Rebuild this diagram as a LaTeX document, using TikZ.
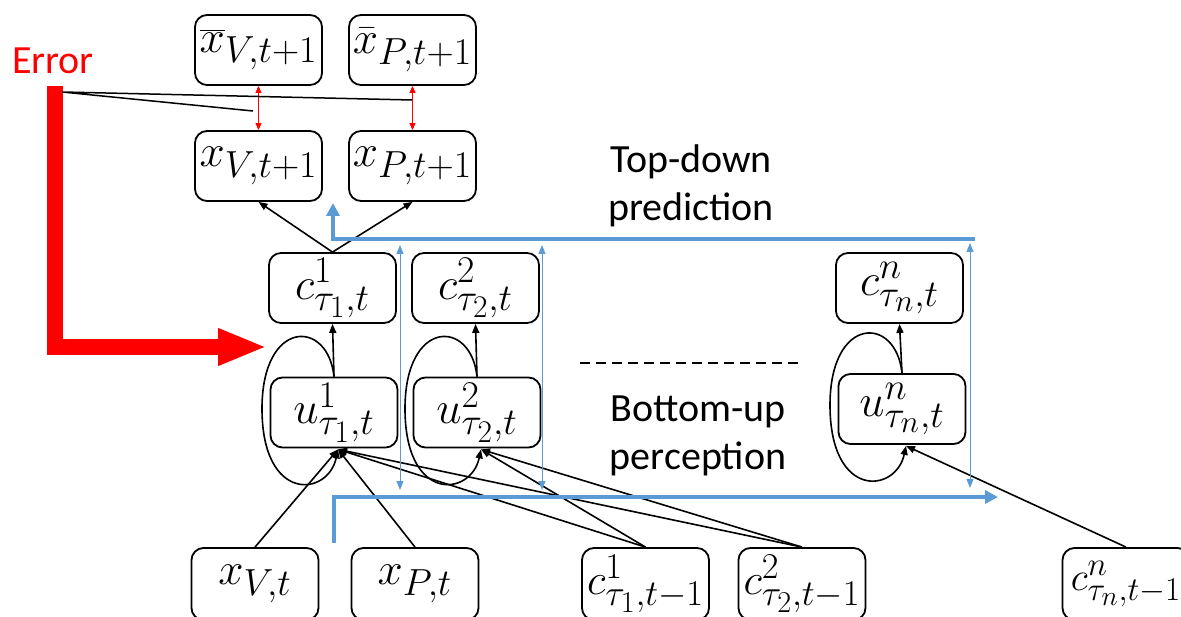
\documentclass[tikz,border=0pt]{standalone}
\usepackage{graphicx}
\usepackage{fontspec}
\newfontfamily\calib{Carlito}
\usetikzlibrary{arrows.meta,calc}
\definecolor{bl}{RGB}{91,155,213}
\definecolor{errred}{RGB}{255,0,0}
\newcommand\mtxt[1]{\scalebox{1.82}{\Huge$#1$}}
\newcommand\mtxtlow[2]{\raisebox{5pt}{\scalebox{#1}{\Huge$#2$}}}
\newcommand\drawselfloop[1]{%
  \draw[blk,-{Triangle[length=9pt,width=7pt]}] (#1.north)
    .. controls ($(#1.north)+(-6,-58)$) and ($(#1.north)+(-72,-58)$) .. ($(#1.north)+(-72,32)$)
    .. controls ($(#1.north)+(-72,127)$) and ($(#1.north)+(-6,120)$) .. ($(#1.south)+(4,1)$);}
\begin{document}
\begin{tikzpicture}[x=1pt,y=-1pt,
  box/.style={draw, line width=1.8pt, rounded corners=12pt, minimum width=127pt,
    minimum height=70pt, inner sep=0pt},
  blk/.style={line width=1.6pt, black},
  blkarrow/.style={blk, -{Triangle[length=9pt,width=7pt]}},
  lbl/.style={align=center, inner sep=0pt, font={\calib\fontsize{40}{48}\selectfont}},
  bluethick/.style={bl, line width=4pt, -{Triangle[length=13pt,width=13pt]}},
  bluethin/.style={bl, line width=0.9pt, {Triangle[length=9pt,width=7pt]}-{Triangle[length=9pt,width=7pt]}},
  reddbl/.style={errred, line width=0.9pt, {Triangle[length=7pt,width=6pt]}-{Triangle[length=7pt,width=6pt]}}]
\useasboundingbox (0,0) rectangle (1181,617);
\clip (0,0) rectangle (1181,617);

% boxes
\node[box] (xbarV) at (258.5,50) {\mtxt{\overline{x}_{V,t+1}}};
\node[box] (xbarP) at (412.5,50) {\mtxt{\bar{x}_{P,t+1}}};
\node[box] (xV) at (258.5,166) {\mtxt{x_{V,t+1}}};
\node[box] (xP) at (412.5,166) {\mtxt{x_{P,t+1}}};
\node[box] (c1) at (332.5,288) {\mtxt{c^{1}_{\tau_1,t}}};
\node[box] (c2) at (475.5,288) {\mtxt{c^{2}_{\tau_2,t}}};
\node[box] (cn) at (899.5,288) {\mtxt{c^{n}_{\tau_n,t}}};
\node[box] (u1) at (334,412.5) {\mtxt{u^{1}_{\tau_1,t}}};
\node[box] (u2) at (477,412.5) {\mtxt{u^{2}_{\tau_2,t}}};
\node[box] (un) at (902,409) {\mtxt{u^{n}_{\tau_n,t}}};
\node[box, minimum height=72pt] (xVt) at (255,584) {\mtxtlow{1.82}{x_{V,t}}};
\node[box, minimum height=72pt] (xPt) at (415,584) {\mtxtlow{1.82}{x_{P,t}}};
\node[box, minimum height=72pt] (c1p) at (645.5,584) {\mtxtlow{1.75}{c^{1}_{\tau_1,t-1}}};
\node[box, minimum height=72pt] (c2p) at (802,584) {\mtxtlow{1.75}{c^{2}_{\tau_2,t-1}}};
\node[box, minimum height=72pt] (cnp) at (1126,584) {\mtxtlow{1.6}{c^{n}_{\tau_n,t-1}}};

% labels
\node[lbl] (td) at (691,186) {Top-down\\prediction};
\node[lbl] (bu) at (698,436) {Bottom-up\\perception};
\node[inner sep=0pt, anchor=base, text=errred, font={\calib\fontsize{40}{48}\selectfont}] (err) at (53,74) {Error};

% input points
\coordinate (u1b) at ($(u1.south)+(4,1)$);
\coordinate (u2b) at ($(u2.south)+(4,1)$);
\coordinate (unb) at ($(un.south)+(4,1)$);

% top-down arrows
\draw[blkarrow] (c1.north) -- (xV.south);
\draw[blkarrow] (c1.north) -- (xP.south);
\draw[blkarrow] (u1.north) -- (c1.south);
\draw[blkarrow] (u2.north) -- (c2.south);
\draw[blkarrow] (un.north) -- (cn.south);

% self loops
\drawselfloop{u1}
\drawselfloop{u2}
\drawselfloop{un}

% bottom-up arrows
\draw[blkarrow] (xVt.north) -- (u1b);
\draw[blkarrow] (xPt.north) -- (u1b);
\draw[blkarrow] (c1p.north) -- (u1b);
\draw[blkarrow] (c1p.north) -- (u2b);
\draw[blkarrow] (c2p.north) -- (u1b);
\draw[blkarrow] (c2p.north) -- (u2b);
\draw[blkarrow] (cnp.north) -- (unb);

% blue flow lines
\coordinate (tdR) at (975,239);
\coordinate (tdT) at (333,203);
\draw[bluethick] (tdR) -| (tdT);
\coordinate (buB) at (334,543);
\coordinate (buR) at (998,497);
\draw[bluethick] (buB) |- (buR);
\coordinate (v1t) at (400,245); \coordinate (v1b) at (400,490);
\coordinate (v2t) at (542,245); \coordinate (v2b) at (542,490);
\coordinate (v3t) at (970,243); \coordinate (v3b) at (970,488);
\draw[bluethin] (v1t) -- (v1b);
\draw[bluethin] (v2t) -- (v2b);
\draw[bluethin] (v3t) -- (v3b);

% dashed separator
\coordinate (dl) at (580,363); \coordinate (dr) at (802,363);
\draw[line width=1.6pt, dash pattern=on 10pt off 6pt] (dl) -- (dr);

% error
\draw[reddbl] (xbarV.south) -- (xV.north);
\draw[reddbl] (xbarP.south) -- (xP.north);
\coordinate (errtop) at (54.5,86);
\coordinate (errtip) at (267,347);
\draw[errred, line width=16pt, line join=miter, -{Triangle[length=49pt,width=34pt]}] (errtop) |- (errtip);
\coordinate (errsrc) at (62,92);
\coordinate (errV) at (253,111);
\coordinate (errP) at (412,100);
\draw[line width=1.5pt] (errV) -- (errsrc) -- (errP);
\end{tikzpicture}
\end{document}
